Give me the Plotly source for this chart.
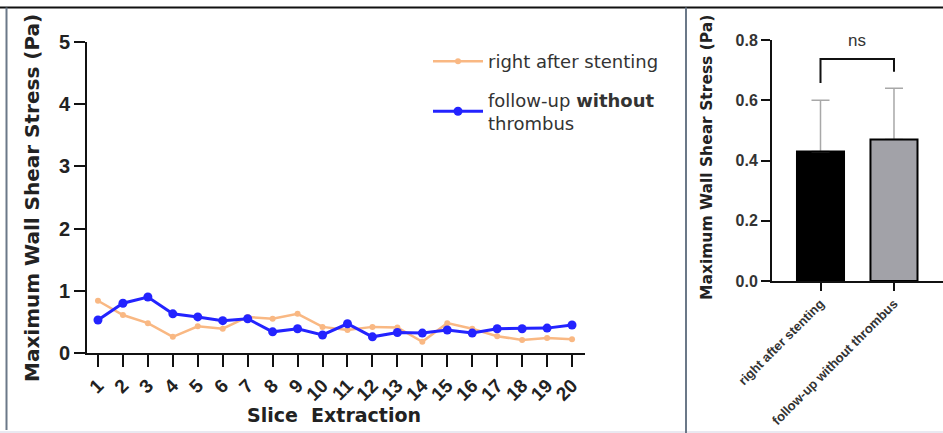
import plotly.graph_objects as go

# Maximum wall shear stress per slice (Pa)
slices = list(range(1, 21))
after_stenting = [0.84, 0.61, 0.48, 0.26, 0.43, 0.39, 0.58, 0.55, 0.63, 0.42,
                  0.37, 0.42, 0.41, 0.18, 0.48, 0.39, 0.27, 0.21, 0.24, 0.22]
follow_up = [0.53, 0.80, 0.90, 0.63, 0.58, 0.52, 0.55, 0.34, 0.39, 0.29,
             0.47, 0.26, 0.33, 0.32, 0.37, 0.32, 0.39, 0.39, 0.40, 0.45]

# Group summary (mean and SD)
groups = ["right after stenting", "follow-up without thrombus"]
group_means = [0.43, 0.47]
group_sd = [0.17, 0.17]
significance = "ns"

W, H = 943, 433
FONT = "Liberation Sans, Arial, sans-serif"
TITLE_FONT = "DejaVu Sans, sans-serif"


def px_x(p):
    return p / W


def px_y(p):
    return 1 - p / H


fig = go.Figure()

fig.add_trace(go.Scatter(
    x=slices, y=after_stenting, mode="lines+markers",
    name="right after stenting", legendgroup="a",
    line=dict(color="#f9b883", width=2.5),
    marker=dict(color="#f9b883", size=6),
    xaxis="x", yaxis="y",
))
fig.add_trace(go.Scatter(
    x=slices, y=follow_up, mode="lines+markers",
    name="follow-up <b>without</b><br>thrombus", legendgroup="b",
    line=dict(color="#2323ff", width=3),
    marker=dict(color="#2323ff", size=9),
    xaxis="x", yaxis="y",
))

bar_x = [0, 1]
# Filled bars with upward SD whiskers
fig.add_trace(go.Bar(
    x=bar_x, y=group_means, width=0.64,
    marker=dict(color=["#000000", "#a2a2a8"], line=dict(width=0)),
    error_y=dict(type="data", array=group_sd, arrayminus=[0, 0], symmetric=False,
                 color="#a8a8a8", thickness=1.5, width=9),
    xaxis="x2", yaxis="y2", showlegend=False, hoverinfo="skip",
))
# Bar outlines drawn over the whiskers' base
fig.add_trace(go.Bar(
    x=bar_x, y=group_means, width=0.64,
    marker=dict(color="rgba(0,0,0,0)", line=dict(color="#000000", width=2)),
    xaxis="x2", yaxis="y2", showlegend=False,
))

axis_common = dict(showgrid=False, zeroline=False, showline=True, linecolor="#111",
                   linewidth=2, ticks="outside", tickcolor="#111", tickwidth=2,
                   automargin=False)

fig.update_layout(
    width=W, height=H,
    margin=dict(l=0, r=0, t=0, b=0, pad=0),
    paper_bgcolor="white", plot_bgcolor="white",
    font=dict(family=FONT, color="#222"),
    barmode="overlay",
    showlegend=True,
    legend=dict(x=px_x(428), y=px_y(43), xanchor="left", yanchor="top",
                font=dict(family="DejaVu Sans, sans-serif", size=18, color="#333"),
                bgcolor="rgba(0,0,0,0)", itemwidth=50, tracegroupgap=12),
    xaxis=dict(axis_common, domain=[px_x(87), px_x(585)], range=[0.56, 20.52],
               tickmode="array", tickvals=slices, ticktext=[str(s) for s in slices],
               tickangle=-45, ticklen=12,
               tickfont=dict(size=19, weight="bold", color="#222"), anchor="y"),
    yaxis=dict(axis_common, domain=[px_y(353), px_y(42)], range=[0, 5],
               tickvals=[0, 1, 2, 3, 4, 5], ticklen=11,
               tickfont=dict(size=20, weight="bold", color="#222"), anchor="x"),
    xaxis2=dict(axis_common, domain=[px_x(772), 1.0], range=[-0.66, 1.667],
                tickmode="array", tickvals=bar_x, ticktext=groups, tickangle=-45,
                ticklen=8, tickfont=dict(size=13, weight="bold", color="#333"),
                anchor="y2"),
    yaxis2=dict(axis_common, domain=[px_y(281), px_y(40)], range=[0, 0.8],
                tickvals=[0, 0.2, 0.4, 0.6, 0.8], tickformat=".1f", ticklen=9,
                tickfont=dict(size=16, weight="bold", color="#333"), anchor="x2"),
)

# Axis titles
fig.add_annotation(text="Maximum Wall Shear Stress (Pa)", xref="paper", yref="paper",
                   x=px_x(32), y=px_y(198), xanchor="center", yanchor="middle",
                   textangle=-90, showarrow=False,
                   font=dict(family=TITLE_FONT, size=20, weight="bold", color="#222"))
fig.add_annotation(text="Slice  Extraction", xref="paper", yref="paper",
                   x=px_x(334), y=px_y(415), xanchor="center", yanchor="middle",
                   showarrow=False,
                   font=dict(family=TITLE_FONT, size=19, weight="bold", color="#222"))
fig.add_annotation(text="Maximum Wall Shear Stress (Pa)", xref="paper", yref="paper",
                   x=px_x(707), y=px_y(158), xanchor="center", yanchor="middle",
                   textangle=-90, showarrow=False,
                   font=dict(family=TITLE_FONT, size=15.5, weight="bold", color="#222"))

# Significance bracket between the two groups
fig.add_shape(type="path", xref="x2", yref="y2",
              path="M 0 0.657 L 0 0.737 L 1 0.737 L 1 0.695",
              line=dict(color="#111", width=2))
fig.add_annotation(text=significance, xref="x2", yref="y2", x=0.5, y=0.80,
                   showarrow=False, font=dict(size=17, color="#333"))

# Panel frame
frame = [
    dict(x0=0, x1=1, y0=px_y(7.5), y1=px_y(7.5), color="#111", width=2),
    dict(x0=px_x(6.5), x1=px_x(6.5), y0=px_y(430), y1=px_y(7.5), color="#6b7888", width=2),
    dict(x0=px_x(686), x1=px_x(686), y0=0, y1=px_y(7.5), color="#6b7888", width=2),
]
for f in frame:
    fig.add_shape(type="line", xref="paper", yref="paper", x0=f["x0"], x1=f["x1"],
                  y0=f["y0"], y1=f["y1"], line=dict(color=f["color"], width=f["width"]))
fig.add_shape(type="rect", xref="paper", yref="paper", x0=0, x1=1, y0=0, y1=px_y(431),
              line=dict(width=0), fillcolor="#e9e9f1", layer="below")

fig.write_html("out.html")
